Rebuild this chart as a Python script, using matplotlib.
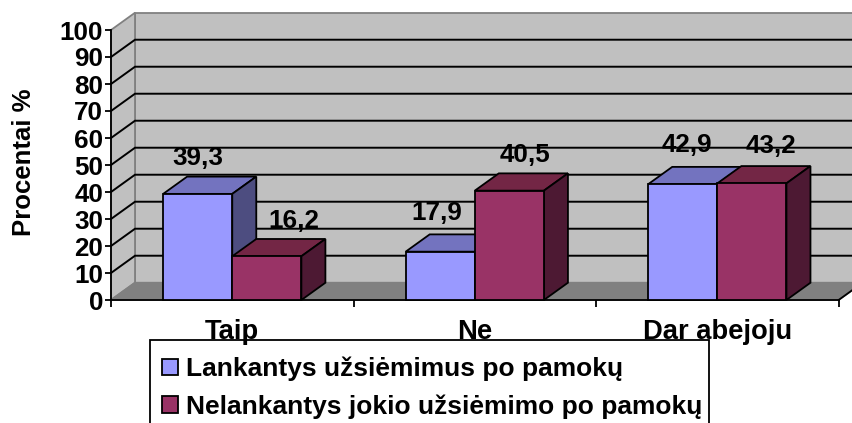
import matplotlib
matplotlib.use("Agg")
import matplotlib.pyplot as plt
from matplotlib.patches import Patch, Polygon, Rectangle

categories = ["Taip", "Ne", "Dar abejoju"]
series_names = ["Lankantys užsiėmimus po pamokų", "Nelankantys jokio užsiėmimo po pamokų"]
attending = [39.3, 17.9, 42.9]
not_attending = [16.2, 40.5, 43.2]
y_ticks = list(range(0, 101, 10))

# colours: front, top, side
blue = ("#9999ff", "#7373bf", "#4d4d80")
red = ("#993366", "#732645", "#4d1933")

# fake 3d depth in data units
DX = 0.099
DY = 6.4
BAR_W = 0.285

# hand placed value labels, (x, y) offset in pixels from top of bar front
label_nudge = [[(0, 36), (27, 35)], [(-3, 39), (16, 36)], [(4, 39), (19, 37)]]

plt.rcParams["font.family"] = ["Liberation Sans", "DejaVu Sans"]
plt.rcParams["font.weight"] = "bold"

W, H = 852, 423
fig = plt.figure(figsize=(W / 100, H / 100), dpi=100)
ax = fig.add_axes([111 / W, 1 - 300 / H, 727.6 / W, 270 / H])
ax.set_xlim(0, 3)
ax.set_ylim(0, 100)
ax.patch.set_visible(False)
for name in ["top", "right"]:
    ax.spines[name].set_visible(False)
for name in ["left", "bottom"]:
    ax.spines[name].set_linewidth(1.3)


def poly(points, face, edge, z, lw=1.3):
    ax.add_patch(Polygon(points, closed=True, facecolor=face, edgecolor=edge,
                         linewidth=lw, zorder=z, clip_on=False, joinstyle="miter"))


# walls and floor
poly([(DX, DY), (3 + DX, DY), (3 + DX, 100 + DY), (DX, 100 + DY)], "#c0c0c0", "#808080", 1)
poly([(0, 0), (DX, DY), (DX, 100 + DY), (0, 100)], "#c0c0c0", "#808080", 1)
poly([(0, 0), (3, 0), (3 + DX, DY), (DX, DY)], "#808080", "#808080", 1)
ax.plot([3, 3 + DX], [0, DY], color="black", lw=1.3, zorder=1.6, clip_on=False)

for v in y_ticks[1:-1]:
    ax.plot([0, DX, 3 + DX], [v, v + DY, v + DY], color="black", lw=1.4,
            zorder=1.5, clip_on=False, solid_joinstyle="miter")


def bar3d(x0, height, colors, z):
    x1 = x0 + BAR_W
    ax.bar(x0, height, width=BAR_W, align="edge", facecolor=colors[0], edgecolor="black",
           linewidth=1.3, zorder=z + 0.2, clip_on=False)
    poly([(x0, height), (x1, height), (x1 + DX, height + DY), (x0 + DX, height + DY)],
         colors[1], "black", z)
    poly([(x1, 0), (x1 + DX, DY), (x1 + DX, height + DY), (x1, height)],
         colors[2], "black", z + 0.1)


for i, cat in enumerate(categories):
    center = i + 0.5
    bar3d(center - BAR_W, attending[i], blue, 3 + i)
    bar3d(center, not_attending[i], red, 3.5 + i)
    for j, (val, x0) in enumerate([(attending[i], center - BAR_W), (not_attending[i], center)]):
        nx, ny = label_nudge[i][j]
        ax.annotate(f"{val:.1f}".replace(".", ","), (x0 + BAR_W / 2, val),
                    xytext=(nx * 0.72, ny * 0.72), textcoords="offset points",
                    ha="center", va="center", fontsize=18.7, fontweight="bold",
                    color="black", zorder=10, annotation_clip=False)

ax.set_yticks(y_ticks)
ax.tick_params(axis="y", length=4.5, width=1.3, pad=1, labelsize=18.7)
ax.set_xticks([0, 1, 2, 3])
ax.set_xticklabels([])
ax.set_xticks([0.5, 1.5, 2.5], labels=categories, minor=True)
ax.tick_params(axis="x", which="major", length=5, width=1.3)
ax.tick_params(axis="x", which="minor", length=0, pad=14, labelsize=19.7)
ax.set_ylabel("Procentai %", fontsize=18.5, fontweight="bold")
ax.yaxis.set_label_coords((36 - 111) / 727.6, 0.5 + (165 - 162) / 270)

# legend frame runs off the bottom of the picture
fig.add_artist(Rectangle((150 / W, -0.05), 559 / W, 0.05 + 1 - 340 / H, transform=fig.transFigure,
                         facecolor="none", edgecolor="black", linewidth=1.3))

handles = [Patch(facecolor=blue[0], edgecolor="black", linewidth=1.3),
           Patch(facecolor=red[0], edgecolor="black", linewidth=1.3)]
leg = fig.legend(handles, series_names, loc="upper left",
                 bbox_to_anchor=(154 / W, 1 - 349 / H), bbox_transform=fig.transFigure,
                 borderaxespad=0, fontsize=19, frameon=False,
                 handlelength=0.6, handleheight=0.6,
                 handletextpad=0.3, labelspacing=0.5, borderpad=0.3)

fig.savefig("out.png", dpi=100)
